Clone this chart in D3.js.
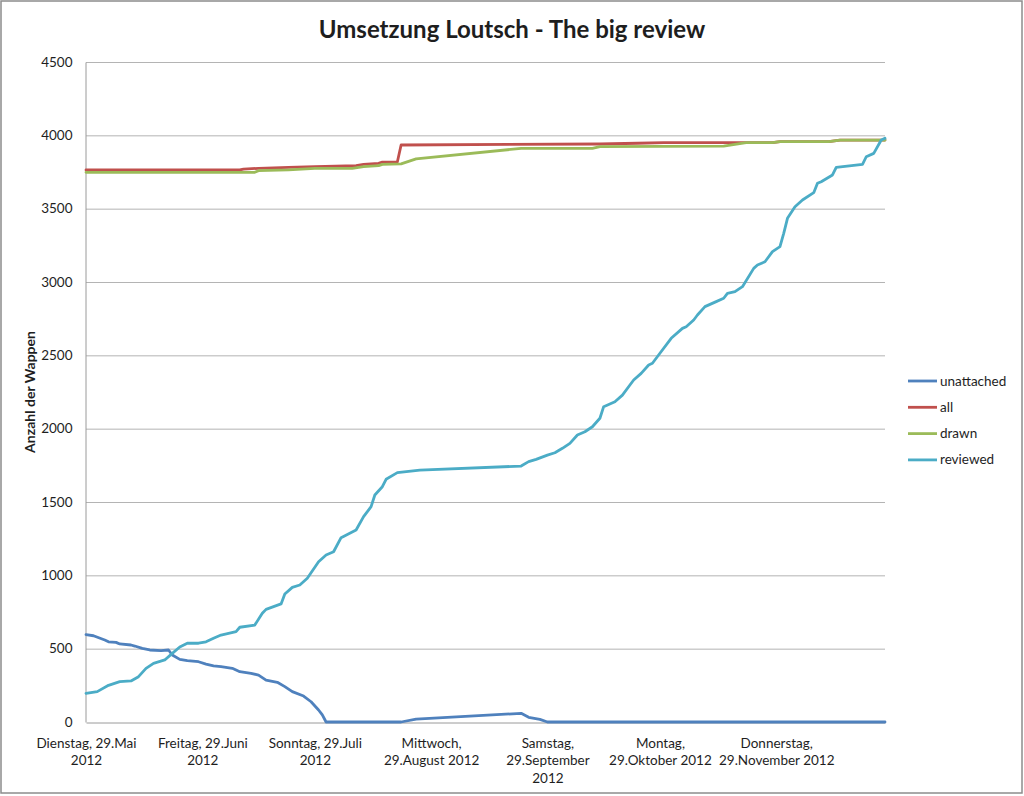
<!DOCTYPE html>
<html>
<head>
<meta charset="utf-8">
<script src="https://cdn.jsdelivr.net/npm/d3@7"></script>
<style>
  body { margin: 0; background: #fff; }
  text { font-family: Lato, "Liberation Sans", sans-serif; fill: #1e1e1e; }
</style>
</head>
<body>
<div id="plotdiv"></div>
<script>
// data
const unattached = [
  ["2012-05-29",595],["2012-05-31",588],["2012-06-03",559],["2012-06-04",547],["2012-06-06",543],
  ["2012-06-07",532],["2012-06-10",525],["2012-06-11",518],["2012-06-13",502],["2012-06-15",491],
  ["2012-06-18",486],["2012-06-20",491],["2012-06-21",457],["2012-06-23",427],["2012-06-25",418],
  ["2012-06-28",411],["2012-06-30",395],["2012-07-02",382],["2012-07-04",377],["2012-07-07",366],
  ["2012-07-09",343],["2012-07-12",332],["2012-07-14",320],["2012-07-16",286],["2012-07-19",271],
  ["2012-07-21",241],["2012-07-23",207],["2012-07-26",177],["2012-07-28",138],["2012-07-30",82],
  ["2012-07-31",48],["2012-08-01",0],["2012-08-21",0],["2012-08-25",20],["2012-09-22",59],
  ["2012-09-24",32],["2012-09-27",18],["2012-09-29",0],["2012-12-28",0]
];

const all = [
  ["2012-05-29",3764],["2012-07-09",3764],["2012-07-10",3770],["2012-07-14",3775],["2012-07-22",3782],
  ["2012-07-29",3786],["2012-08-09",3793],["2012-08-11",3802],["2012-08-15",3809],["2012-08-16",3818],
  ["2012-08-20",3818],["2012-08-21",3934],["2012-10-13",3941],["2012-10-23",3946],["2012-10-30",3950],
  ["2012-11-28",3950],["2012-11-30",3957],["2012-12-13",3957],["2012-12-16",3968],["2012-12-28",3968]
];

const drawn = [
  ["2012-05-29",3748],["2012-07-13",3748],["2012-07-14",3759],["2012-07-22",3764],["2012-07-29",3775],
  ["2012-08-08",3775],["2012-08-11",3786],["2012-08-15",3793],["2012-08-16",3802],["2012-08-21",3805],
  ["2012-08-25",3839],["2012-09-22",3911],["2012-10-11",3911],["2012-10-13",3923],["2012-11-15",3927],
  ["2012-11-21",3950],["2012-11-28",3950],["2012-11-30",3957],["2012-12-13",3957],["2012-12-16",3968],
  ["2012-12-28",3968]
];

const reviewed = [
  ["2012-05-29",195],["2012-06-01",207],["2012-06-04",250],["2012-06-07",275],["2012-06-10",280],
  ["2012-06-12",309],["2012-06-14",366],["2012-06-16",400],["2012-06-19",423],["2012-06-21",468],
  ["2012-06-23",511],["2012-06-25",537],["2012-06-28",537],["2012-06-30",547],["2012-07-02",571],
  ["2012-07-04",593],["2012-07-08",616],["2012-07-09",646],["2012-07-13",661],["2012-07-15",741],
  ["2012-07-16",768],["2012-07-20",805],["2012-07-21",873],["2012-07-23",918],["2012-07-25",934],
  ["2012-07-27",980],["2012-07-30",1093],["2012-08-01",1139],["2012-08-03",1161],["2012-08-05",1257],
  ["2012-08-09",1309],["2012-08-11",1400],["2012-08-13",1468],["2012-08-14",1548],["2012-08-16",1604],
  ["2012-08-17",1655],["2012-08-20",1700],["2012-08-26",1718],["2012-09-22",1745],["2012-09-24",1775],
  ["2012-09-26",1791],["2012-09-29",1820],["2012-10-01",1836],["2012-10-03",1866],["2012-10-05",1900],
  ["2012-10-07",1957],["2012-10-09",1979],["2012-10-11",2013],["2012-10-13",2071],["2012-10-14",2150],
  ["2012-10-17",2184],["2012-10-19",2229],["2012-10-21",2298],["2012-10-22",2332],["2012-10-24",2377],
  ["2012-10-26",2434],["2012-10-27",2446],["2012-10-29",2514],["2012-11-01",2616],["2012-11-04",2684],
  ["2012-11-05",2695],["2012-11-07",2741],["2012-11-08",2775],["2012-11-10",2832],["2012-11-13",2866],
  ["2012-11-15",2889],["2012-11-16",2923],["2012-11-18",2934],["2012-11-20",2968],["2012-11-23",3093],
  ["2012-11-24",3116],["2012-11-26",3138],["2012-11-28",3207],["2012-11-30",3241],["2012-12-01",3332],
  ["2012-12-02",3434],["2012-12-04",3513],["2012-12-06",3559],["2012-12-09",3609],["2012-12-10",3673],
  ["2012-12-11",3684],["2012-12-14",3730],["2012-12-15",3782],["2012-12-22",3802],["2012-12-23",3854],
  ["2012-12-25",3877],["2012-12-27",3968],["2012-12-28",3980]
];

const seriesNames = ["unattached", "all", "drawn", "reviewed"];
const seriesColors = ["#4f81bd", "#c0504d", "#9bbb59", "#4bacc6"];

const xDomain = ["2012-05-29", "2012-12-28"];
const xTickDates = ["2012-05-29","2012-06-29","2012-07-29","2012-08-29","2012-09-29","2012-10-29","2012-11-29"];
const xTickLabels = [
  ["Dienstag, 29.Mai", "2012"],
  ["Freitag, 29.Juni", "2012"],
  ["Sonntag, 29.Juli", "2012"],
  ["Mittwoch,", "29.August 2012"],
  ["Samstag,", "29.September", "2012"],
  ["Montag,", "29.Oktober 2012"],
  ["Donnerstag,", "29.November 2012"]
];
const yTicks = [0, 500, 1000, 1500, 2000, 2500, 3000, 3500, 4000, 4500];

const chartTitle = "Umsetzung Loutsch - The big review";
const yTitle = "Anzahl der Wappen";

// layout
const W = 1024, H = 796;
const plot = {left: 86, right: 885, top: 62, bottom: 722};

const parse = d3.timeParse("%Y-%m-%d");

const svg = d3.select("#plotdiv")
  .append("svg")
  .attr("width", W)
  .attr("height", H);

// chart border
svg.append("rect")
  .attr("x", 1).attr("y", 1)
  .attr("width", W - 3).attr("height", H - 4)
  .attr("fill", "#fff")
  .attr("stroke", "#8c8c8c")
  .attr("stroke-width", 1.5);

const x = d3.scaleTime()
  .domain(xDomain.map(parse))
  .range([plot.left, plot.right]);

const y = d3.scaleLinear()
  .domain([0, 4500])
  .range([plot.bottom, plot.top]);

// gridlines
svg.append("g")
  .selectAll("line")
  .data(yTicks.filter(d => d > 0))
  .enter()
  .append("line")
  .attr("x1", plot.left).attr("x2", plot.right)
  .attr("y1", d => y(d) + 0.5).attr("y2", d => y(d) + 0.5)
  .attr("stroke", "#b4b4b4")
  .attr("stroke-width", 1);

// y axis
const yAxis = svg.append("g")
  .attr("transform", "translate(" + (plot.left - 0.5) + ",0)")
  .call(d3.axisLeft(y).tickValues(yTicks).tickFormat(d3.format("d")).tickSize(0).tickPadding(13));
yAxis.select(".domain").attr("stroke", "#9a9a9a");
yAxis.selectAll("text")
  .style("font-size", "13.5px")
  .style("font-family", "Lato, sans-serif")
  .attr("fill", "#1e1e1e");

// x axis
const xAxis = svg.append("g")
  .attr("transform", "translate(0," + (plot.bottom + 0.5) + ")")
  .call(d3.axisBottom(x).tickValues(xTickDates.map(parse)).tickSize(0).tickFormat(""));
xAxis.select(".domain").attr("stroke", "#9a9a9a");

xAxis.selectAll(".tick")
  .each(function(d, i) {
    const t = d3.select(this).append("text")
      .attr("text-anchor", "middle")
      .attr("y", 25)
      .style("font-size", "13.5px")
      .attr("fill", "#1e1e1e");
    xTickLabels[i].forEach((line, k) => {
      t.append("tspan").attr("x", 0).attr("dy", k == 0 ? 0 : 17.5).text(line);
    });
  });

// lines
const line = d3.line()
  .x(d => x(parse(d[0])))
  .y(d => y(d[1]));

[unattached, all, drawn, reviewed].forEach((data, i) => {
  svg.append("path")
    .datum(data)
    .attr("d", line)
    .attr("fill", "none")
    .attr("stroke", seriesColors[i])
    .attr("stroke-width", 2.8)
    .attr("stroke-linejoin", "round")
    .attr("stroke-linecap", "round");
});

// title
svg.append("text")
  .attr("x", 512).attr("y", 38)
  .attr("text-anchor", "middle")
  .style("font-size", "24px")
  .style("font-weight", "bold")
  .attr("fill", "#000")
  .text(chartTitle);

// y title
svg.append("text")
  .attr("transform", "translate(35,392) rotate(-90)")
  .attr("text-anchor", "middle")
  .style("font-size", "14px")
  .style("font-weight", "bold")
  .attr("fill", "#000")
  .text(yTitle);

// legend
const legend = svg.append("g")
  .selectAll("g")
  .data(seriesNames)
  .enter()
  .append("g")
  .attr("transform", (d, i) => "translate(908," + (381 + i * 26.3) + ")");

legend.append("line")
  .attr("x1", 0).attr("x2", 29)
  .attr("stroke", (d, i) => seriesColors[i])
  .attr("stroke-width", 2.8);

legend.append("text")
  .attr("x", 32).attr("y", 4.5)
  .style("font-size", "13.5px")
  .text(d => d);
</script>
</body>
</html>
